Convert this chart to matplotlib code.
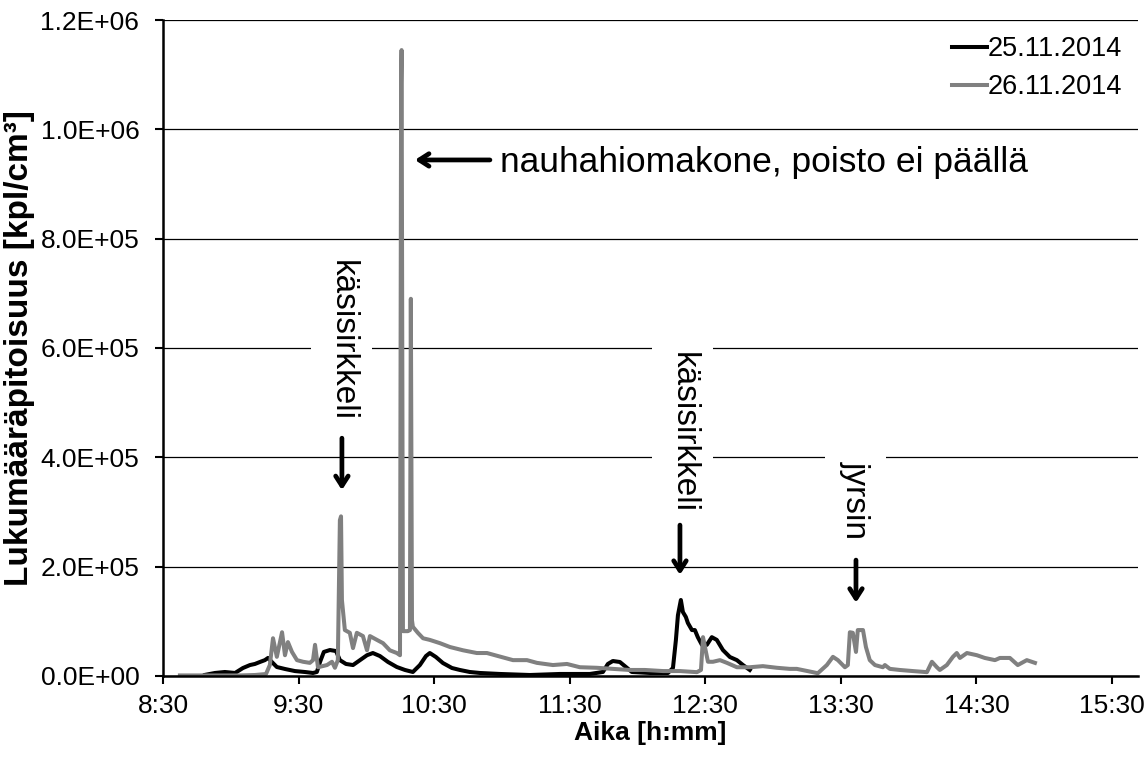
import matplotlib
matplotlib.use("Agg")
import matplotlib.pyplot as plt
from matplotlib.ticker import FuncFormatter, MultipleLocator, FixedLocator

plt.rcParams['font.family'] = ['Liberation Sans', 'DejaVu Sans']

# Time in minutes after midnight, concentration in kpl/cm3
t_25 = [528.6, 533.0, 537.4, 541.9, 545.4, 548.5, 550.7, 552.9, 555.1, 556.5,
        558.2, 560.4, 564.0, 568.4, 572.8, 576.4, 578.1, 579.5, 581.2, 583.9,
        586.6, 588.3, 591.0, 594.1, 597.2, 600.3, 602.9, 606.0, 609.6, 613.5,
        617.1, 620.6, 623.7, 626.4, 628.1, 630.8, 633.9, 637.9, 641.4, 645.8,
        650.3, 659.1, 672.4, 685.7, 698.9, 704.7, 706.9, 709.1, 712.2, 714.9,
        717.5, 725.5, 733.5, 735.7, 737.0, 737.9, 739.2, 740.1, 741.4, 742.3,
        744.1, 745.4, 746.7, 748.5, 750.7, 752.9, 755.1, 757.8, 760.9, 764.0,
        766.7, 769.7]
c_25 = [2000, 5500, 7300, 5500, 14600, 20000, 22000, 25600, 29000, 33000,
        25600, 16400, 12800, 9000, 7300, 5500, 7300, 25600, 44000, 47500,
        45600, 29000, 22000, 20000, 29000, 38000, 42000, 36500, 25600, 16400,
        11000, 7300, 20000, 36500, 42000, 34700, 23700, 14600, 11000, 7300,
        5500, 3700, 1800, 3700, 3700, 7300, 22000, 27400, 25600, 16400,
        7300, 5500, 5500, 14600, 65700, 111000, 139000, 117000, 108000, 97000,
        84000, 84000, 71000, 57000, 57000, 71000, 66000, 47500, 34700, 29000,
        20000, 11000]

t_26 = [517.5, 526.4, 535.2, 544.1, 550.7, 555.6, 557.3, 558.7, 560.4, 562.7,
        564.0, 565.3, 567.1, 569.3, 572.0, 575.0, 576.4, 577.3, 578.6, 582.6,
        584.8, 586.1, 587.4, 588.3, 588.8, 589.2, 590.5, 592.7, 594.1, 595.8,
        598.5, 600.3, 601.6, 604.7, 607.4, 610.4, 613.5, 614.9, 615.4, 615.6,
        616.2, 618.4, 619.3, 619.7, 620.2, 620.6, 622.8, 625.1, 628.1, 632.6,
        637.0, 642.8, 648.9, 653.4, 657.8, 664.9, 671.1, 675.5, 682.6, 688.8,
        694.5, 702.0, 709.1, 716.6, 723.3, 731.3, 738.8, 746.3, 748.1, 749.0,
        750.3, 751.2, 753.4, 756.5, 759.6, 764.0, 769.7, 775.5, 781.7, 787.4,
        790.5, 797.6, 799.8, 803.8, 806.5, 808.7, 811.8, 813.1, 814.0, 815.3,
        816.7, 817.5, 819.8, 821.1, 822.8, 825.1, 828.6, 829.5, 831.7, 836.1,
        841.9, 848.1, 850.3, 852.5, 853.8, 856.9, 859.6, 861.3, 862.7, 865.8,
        870.2, 873.7, 878.2, 880.4, 884.8, 888.3, 892.3, 895.9]
c_26 = [1000, 1000, 1000, 1000, 1800, 3600, 20000, 69000, 35000, 80000,
        38000, 62000, 44000, 29000, 26000, 24000, 29000, 57000, 16000, 20000,
        26000, 15000, 29000, 285000, 292000, 139000, 84000, 79000, 51000, 79000,
        73000, 47000, 73000, 66000, 60000, 47000, 42000, 38000, 1085000, 1145000,
        82000, 82000, 84000, 690000, 102000, 90000, 79000, 69000, 66000, 60000,
        53000, 47000, 42000, 42000, 37000, 29000, 29000, 24000, 20000, 22000,
        16000, 15000, 13000, 11000, 11000, 9000, 9000, 7000, 11000, 71000,
        44000, 26000, 26000, 29000, 24000, 16000, 16000, 18000, 15000, 13000,
        13000, 7000, 5000, 20000, 35000, 29000, 16000, 20000, 80000, 79000,
        44000, 84000, 84000, 53000, 29000, 20000, 16000, 20000, 13000, 11000,
        9000, 7000, 26000, 16000, 11000, 20000, 35000, 42000, 33000, 42000,
        38000, 33000, 29000, 33000, 33000, 20000, 29000, 24000]

labels = ['25.11.2014', '26.11.2014']
colors = ['#000000', '#808080']
x_ticks = [510, 570, 630, 690, 750, 810, 870, 930]

fig = plt.figure(figsize=(11.46, 7.58), dpi=100)
ax = fig.add_axes([0.1422, 0.1082, 0.8508, 0.8654])

ax.plot(t_25, c_25, color=colors[0], lw=2.9, label=labels[0], zorder=3,
        solid_joinstyle='round')
ax.plot(t_26, c_26, color=colors[1], lw=2.9, label=labels[1], zorder=4,
        solid_joinstyle='round')

ax.set_xlim(510, 941.5)
ax.set_ylim(0, 1.2e6)
ax.xaxis.set_major_locator(FixedLocator(x_ticks))
ax.yaxis.set_major_locator(MultipleLocator(2e5))
ax.xaxis.set_major_formatter(FuncFormatter(lambda m, p: f"{int(m // 60)}:{int(round(m % 60)):02d}"))
ax.yaxis.set_major_formatter(FuncFormatter(lambda v, p: f"{v:.1E}"))

ax.grid(axis='y', color='#000000', lw=0.9, zorder=0)
ax.set_axisbelow(True)
for s in ['top', 'right']:
    ax.spines[s].set_visible(False)
for s in ['left', 'bottom']:
    ax.spines[s].set_linewidth(1.8)
    ax.spines[s].set_zorder(5)
ax.tick_params(axis='both', direction='out', length=6, width=1.5, labelsize=19)
ax.tick_params(axis='x', pad=7)
ax.tick_params(axis='y', pad=11)

ax.set_xlabel('Aika [h:mm]', fontsize=19, fontweight='bold', labelpad=2)
ax.set_ylabel('Lukumääräpitoisuus [kpl/cm³]', fontsize=24, fontweight='bold', labelpad=4)

leg = ax.legend(loc='upper right', frameon=False, fontsize=19.5,
                handlelength=1.3, handletextpad=0.0, labelspacing=0.45,
                borderaxespad=0.2)
for h in leg.get_lines():
    h.set_linewidth(2.9)

arrow_style = dict(arrowstyle='->,head_length=0.7,head_width=0.45', lw=3.4,
                   color='black', shrinkA=0, shrinkB=0)
box = dict(boxstyle='square,pad=0.45', fc='white', ec='none')

ax.annotate('', xy=(621.5, 944e3), xytext=(654.7, 944e3), arrowprops=arrow_style, zorder=6)
ax.text(659.1, 939e3, 'nauhahiomakone, poisto ei päällä', fontsize=25.5,
        ha='left', va='center', zorder=6)

ax.text(589.2, 613e3, 'käsisirkkeli', fontsize=24, rotation=270,
        ha='center', va='center', bbox=box, zorder=6)
ax.annotate('', xy=(589.2, 340e3), xytext=(589.2, 435e3), arrowprops=arrow_style, zorder=6)

ax.text(740.1, 445e3, 'käsisirkkeli', fontsize=24, rotation=270,
        ha='center', va='center', bbox=box, zorder=6)
ax.annotate('', xy=(738.8, 185e3), xytext=(738.8, 276e3), arrowprops=arrow_style, zorder=6)

ax.text(816.3, 322e3, 'jyrsin', fontsize=24, rotation=270,
        ha='center', va='center', bbox=box, zorder=6)
ax.annotate('', xy=(816.7, 134e3), xytext=(816.7, 212e3), arrowprops=arrow_style, zorder=6)

fig.savefig('out.png', dpi=100)
